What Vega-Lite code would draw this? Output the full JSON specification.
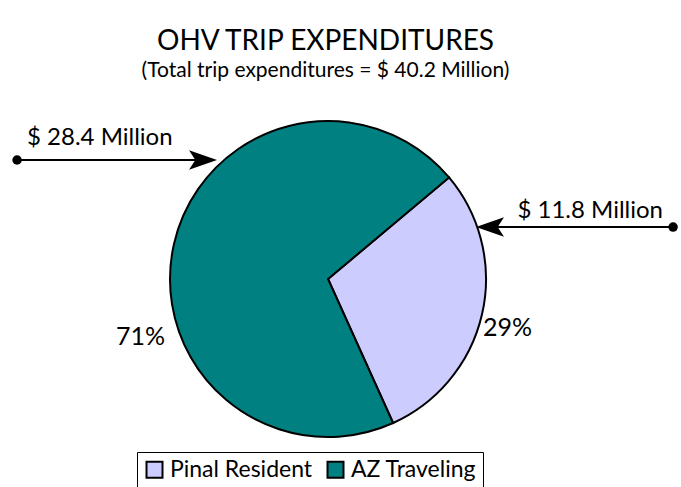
{
  "$schema": "https://vega.github.io/schema/vega-lite/v6.json",
  "width": 681,
  "height": 397,
  "autosize": {"type": "none"},
  "padding": {"top": 90, "left": 0, "right": 0, "bottom": 0},
  "background": "white",
  "config": {"view": {"stroke": null}, "font": "Lato"},
  "title": {
    "text": "OHV TRIP EXPENDITURES",
    "subtitle": "(Total trip expenditures  = $ 40.2 Million)",
    "fontSize": 28,
    "fontWeight": "normal",
    "font": "Lato",
    "color": "black",
    "subtitleFont": "Lato",
    "subtitleFontSize": 21,
    "subtitleColor": "black",
    "subtitlePadding": 4,
    "anchor": "middle",
    "dx": -15,
    "offset": 9
  },
  "data": {
    "values": [
      {"category": "Pinal Resident", "value": 11.8, "pct": "29%", "amount": "$ 11.8 Million"},
      {"category": "AZ Traveling", "value": 28.4, "pct": "71%", "amount": "$ 28.4 Million"}
    ]
  },
  "layer": [
    {
      "mark": {"type": "arc", "radius": 158, "stroke": "black", "strokeWidth": 2},
      "encoding": {
        "theta": {"field": "value", "type": "quantitative", "stack": true, "scale": {"range": [2.717, 9.0]}},
        "order": {"field": "category", "sort": "ascending"},
        "color": {
          "field": "category",
          "type": "nominal",
          "scale": {"domain": ["Pinal Resident", "AZ Traveling"], "range": ["#CCCCFF", "#008080"]},
          "legend": {
            "orient": "none",
            "legendX": 137,
            "legendY": 362,
            "direction": "horizontal",
            "title": null,
            "strokeColor": "black",
            "padding": 6,
            "labelFontSize": 23,
            "labelFont": "Lato",
            "labelColor": "black",
            "symbolType": "square",
            "symbolSize": 256,
            "symbolStrokeColor": "black",
            "symbolStrokeWidth": 2,
            "symbolOpacity": 1,
            "columnPadding": 10,
            "labelOffset": 4
          }
        },
        "x": {"datum": 0, "type": "quantitative", "scale": {"domain": [-2.076, 2.234], "nice": false, "zero": false}, "axis": null},
        "y": {"datum": 0, "type": "quantitative", "scale": {"domain": [-1.316, 1.196], "nice": false, "zero": false}, "axis": null}
      }
    },
    {
      "transform": [{"filter": "datum.category === 'AZ Traveling'"}],
      "layer": [
        {
          "mark": {"type": "rule", "strokeWidth": 2, "color": "black"},
          "encoding": {"x": {"datum": -1.968}, "x2": {"datum": -0.791}, "y": {"datum": 0.753}}
        },
        {
          "mark": {"type": "point", "filled": true, "color": "black", "size": 90, "opacity": 1},
          "encoding": {"x": {"datum": -1.968}, "y": {"datum": 0.753}}
        },
        {
          "mark": {"type": "point", "shape": "M1,0L-1,-0.7L-0.55,0L-1,0.7Z", "filled": true, "color": "black", "size": 784, "opacity": 1},
          "encoding": {"x": {"datum": -0.791}, "y": {"datum": 0.753}}
        },
        {
          "mark": {"type": "text", "align": "left", "baseline": "alphabetic", "fontSize": 24, "font": "Lato", "color": "black"},
          "encoding": {"x": {"datum": -1.905}, "y": {"datum": 0.848}, "text": {"field": "amount"}}
        },
        {
          "mark": {"type": "text", "align": "right", "baseline": "alphabetic", "fontSize": 25, "font": "Lato", "color": "black"},
          "encoding": {"x": {"datum": -1.032}, "y": {"datum": -0.418}, "text": {"field": "pct"}}
        }
      ]
    },
    {
      "transform": [{"filter": "datum.category === 'Pinal Resident'"}],
      "layer": [
        {
          "mark": {"type": "rule", "strokeWidth": 2, "color": "black"},
          "encoding": {"x": {"datum": 1.025}, "x2": {"datum": 2.184}, "y": {"datum": 0.329}}
        },
        {
          "mark": {"type": "point", "filled": true, "color": "black", "size": 90, "opacity": 1},
          "encoding": {"x": {"datum": 2.184}, "y": {"datum": 0.329}}
        },
        {
          "mark": {"type": "point", "shape": "M1,0L-1,-0.7L-0.55,0L-1,0.7Z", "filled": true, "color": "black", "size": 784, "opacity": 1, "angle": 180},
          "encoding": {"x": {"datum": 1.025}, "y": {"datum": 0.329}}
        },
        {
          "mark": {"type": "text", "align": "right", "baseline": "alphabetic", "fontSize": 24, "font": "Lato", "color": "black"},
          "encoding": {"x": {"datum": 2.12}, "y": {"datum": 0.386}, "text": {"field": "amount"}}
        },
        {
          "mark": {"type": "text", "align": "left", "baseline": "alphabetic", "fontSize": 25, "font": "Lato", "color": "black"},
          "encoding": {"x": {"datum": 0.981}, "y": {"datum": -0.361}, "text": {"field": "pct"}}
        }
      ]
    }
  ]
}
